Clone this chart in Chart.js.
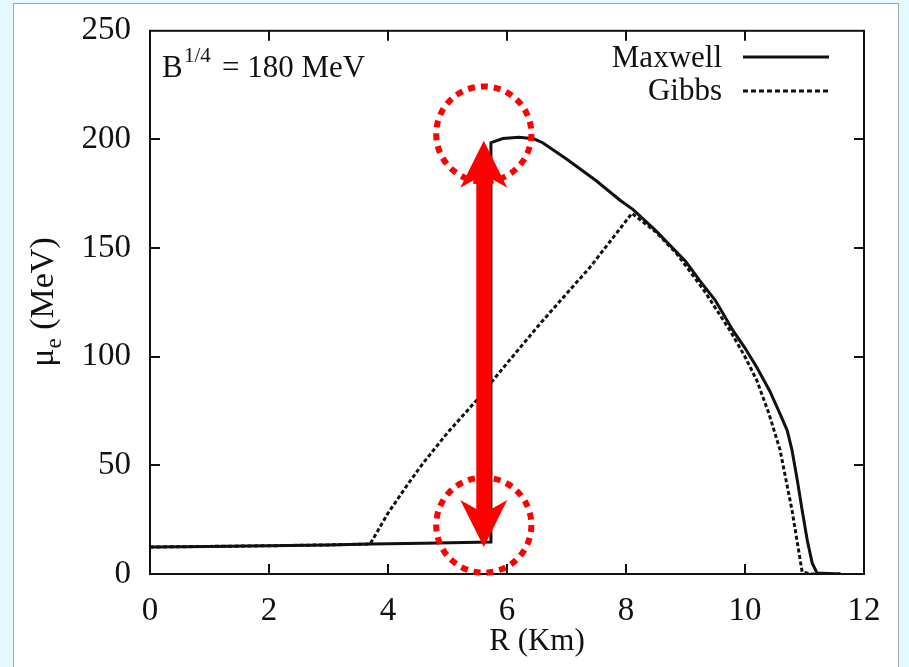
<!DOCTYPE html>
<html>
<head>
<meta charset="utf-8">
<script src="https://cdn.jsdelivr.net/npm/chart.js@4.4.1/dist/chart.umd.min.js"></script>
<style>
  html, body { margin: 0; padding: 0; }
  body { width: 909px; height: 667px; background: #e4fafe; position: relative; overflow: hidden; }
  .panel { position: absolute; left: 13px; top: 3px; width: 884px; height: 700px; background: #fff; border: 1px solid #a4a8aa; }
  .wrap { position: absolute; left: 0; top: 0; width: 909px; height: 667px; }
</style>
</head>
<body>
<div class="panel"></div>
<div class="wrap"><canvas id="chart"></canvas></div>
<script>
// electron chemical potential vs radius, B^1/4 = 180 MeV
const maxwellR  = [0, 1, 2, 3, 3.7, 4.6, 5.73, 5.73, 5.93, 6.2, 6.45, 6.6, 7.0, 7.5, 7.9, 8.12, 8.5, 9.0, 9.24, 9.5, 9.8, 10.0, 10.2, 10.42, 10.6, 10.71, 10.79, 10.88, 10.96, 11.05, 11.13, 11.21, 11.6];
const maxwellMu = [12.4, 12.7, 13.0, 13.4, 13.8, 14.2, 14.7, 198.5, 200.4, 201, 200.3, 198.5, 191, 181, 172, 167.7, 158, 144, 135, 126, 112, 104, 95, 84, 73, 66, 57, 43, 29.5, 15, 5, 0.5, 0];

const gibbsR  = [0, 1, 2, 3, 3.7, 4.0, 4.3, 4.59, 5.0, 5.49, 6.0, 6.55, 7.0, 7.39, 8.1, 8.5, 8.85, 9.3, 9.75, 10.0, 10.2, 10.4, 10.59, 10.79, 10.96, 11.1, 11.65];
const gibbsMu = [12.4, 12.7, 13.0, 13.4, 13.8, 28, 40, 51, 65, 80, 97, 115, 129, 141, 166, 157.5, 147.5, 131, 112, 100, 89, 74, 57, 29.4, 1, 0, 0];

// red double arrow across the Maxwell jump, and the two marked corners
const arrowR = 5.61;
const arrowMu = [12.4, 199.4];
const ringMu = [22.5, 202.5];

const SERIF = "'Liberation Serif', 'Times New Roman', serif";
const INK = '#111';

const toXY = (xs, ys) => xs.map((x, i) => ({ x: x, y: ys[i] }));

// frame with inward ticks on all four sides
const framePlugin = {
  id: 'frame',
  beforeDatasetsDraw(chart) {
    const { ctx, chartArea: a, scales } = chart;
    ctx.save();
    ctx.strokeStyle = INK;
    ctx.lineWidth = 2;
    ctx.strokeRect(a.left, a.top, a.right - a.left, a.bottom - a.top);
    const len = 10;
    ctx.beginPath();
    scales.x.ticks.forEach(t => {
      const px = Math.round(scales.x.getPixelForValue(t.value));
      if (px <= a.left + 1 || px >= a.right - 1) return;
      ctx.moveTo(px, a.bottom); ctx.lineTo(px, a.bottom - len);
      ctx.moveTo(px, a.top); ctx.lineTo(px, a.top + len);
    });
    scales.y.ticks.forEach(t => {
      const py = Math.round(scales.y.getPixelForValue(t.value));
      if (py <= a.top + 1 || py >= a.bottom - 1) return;
      ctx.moveTo(a.left, py); ctx.lineTo(a.left + len, py);
      ctx.moveTo(a.right, py); ctx.lineTo(a.right - len, py);
    });
    ctx.stroke();
    ctx.restore();
  }
};

// axis titles, B label and the legend
const textPlugin = {
  id: 'texts',
  afterDraw(chart) {
    const { ctx } = chart;
    ctx.save();
    ctx.fillStyle = INK;
    ctx.textBaseline = 'alphabetic';

    // x title
    ctx.font = '31px ' + SERIF;
    ctx.textAlign = 'center';
    ctx.fillText('R (Km)', 537, 650);

    // y title with subscript
    ctx.save();
    ctx.translate(53, 302);
    ctx.rotate(-Math.PI / 2);
    ctx.textAlign = 'left';
    ctx.font = '34px ' + SERIF;
    const wMu = ctx.measureText('\u03bc').width;
    const wRest = ctx.measureText(' (MeV)').width;
    ctx.font = '23px ' + SERIF;
    const wE = ctx.measureText('e').width;
    let x0 = -(wMu + wE + wRest) / 2;
    ctx.font = '34px ' + SERIF;
    ctx.fillText('\u03bc', x0, 0);
    ctx.font = '23px ' + SERIF;
    ctx.fillText('e', x0 + wMu, 8);
    ctx.font = '34px ' + SERIF;
    ctx.fillText(' (MeV)', x0 + wMu + wE, 0);
    ctx.restore();

    // B^1/4 label
    ctx.textAlign = 'left';
    ctx.font = '31px ' + SERIF;
    ctx.fillText('B', 162, 77);
    ctx.font = '21px ' + SERIF;
    ctx.fillText('1/4', 184, 62);
    ctx.font = '31px ' + SERIF;
    ctx.fillText('= 180 MeV', 222, 77);

    // legend
    ctx.textAlign = 'right';
    ctx.fillText('Maxwell', 722, 67);
    ctx.fillText('Gibbs', 722, 100);
    ctx.strokeStyle = INK;
    ctx.lineWidth = 3;
    ctx.beginPath(); ctx.moveTo(743, 57); ctx.lineTo(829, 57); ctx.stroke();
    ctx.lineWidth = 2.8;
    ctx.setLineDash([5, 3]);
    ctx.beginPath(); ctx.moveTo(743, 91); ctx.lineTo(829, 91); ctx.stroke();
    ctx.restore();
  }
};

// red arrow and dotted rings on top of the curves
const markPlugin = {
  id: 'marks',
  afterDatasetsDraw(chart) {
    const { ctx, scales } = chart;
    const x = scales.x.getPixelForValue(arrowR);
    const yBot = scales.y.getPixelForValue(arrowMu[0]);
    const yTop = scales.y.getPixelForValue(arrowMu[1]);
    const shaft = 15, headW = 47, headL = 47, notch = 9;
    ctx.save();
    ctx.fillStyle = '#ff0000';
    ctx.beginPath();
    ctx.moveTo(x, yTop);
    ctx.lineTo(x + headW / 2, yTop + headL);
    ctx.lineTo(x + shaft / 2, yTop + headL - notch);
    ctx.lineTo(x + shaft / 2, yBot - headL + notch);
    ctx.lineTo(x + headW / 2, yBot - headL);
    ctx.lineTo(x, yBot);
    ctx.lineTo(x - headW / 2, yBot - headL);
    ctx.lineTo(x - shaft / 2, yBot - headL + notch);
    ctx.lineTo(x - shaft / 2, yTop + headL - notch);
    ctx.lineTo(x - headW / 2, yTop + headL);
    ctx.closePath();
    ctx.fill();

    const r = scales.x.getPixelForValue(arrowR + 0.8) - x;
    ctx.strokeStyle = '#ff0000';
    ctx.lineWidth = 6;
    ctx.setLineDash([7, 6]);
    ringMu.forEach(mu => {
      ctx.beginPath();
      ctx.arc(x, scales.y.getPixelForValue(mu), r, 0, Math.PI * 2);
      ctx.stroke();
    });
    ctx.restore();
  }
};

const tickFont = { family: SERIF, size: 33 };

new Chart(document.getElementById('chart'), {
  type: 'line',
  data: {
    datasets: [
      {
        label: 'Maxwell',
        data: toXY(maxwellR, maxwellMu),
        borderColor: INK,
        borderWidth: 3,
        pointRadius: 0,
        tension: 0
      },
      {
        label: 'Gibbs',
        data: toXY(gibbsR, gibbsMu),
        borderColor: INK,
        borderWidth: 3,
        borderDash: [4, 2.5],
        pointRadius: 0,
        tension: 0
      }
    ]
  },
  options: {
    responsive: true,
    maintainAspectRatio: false,
    animation: false,
    devicePixelRatio: 1,
    layout: { padding: { left: 0, top: 23, right: 45, bottom: 0 } },
    plugins: {
      legend: { display: false },
      tooltip: { enabled: false }
    },
    scales: {
      x: {
        type: 'linear',
        min: 0,
        max: 12,
        grid: { display: false },
        border: { display: false },
        ticks: { stepSize: 2, font: tickFont, color: INK, padding: 10, maxRotation: 0 },
        afterFit: s => { s.height = 93; }
      },
      y: {
        type: 'linear',
        min: 0,
        max: 250,
        grid: { display: false },
        border: { display: false },
        ticks: { stepSize: 50, font: tickFont, color: INK, padding: 11 },
        afterFit: s => { s.width = 150; }
      }
    }
  },
  plugins: [framePlugin, markPlugin, textPlugin]
});
</script>
</body>
</html>
